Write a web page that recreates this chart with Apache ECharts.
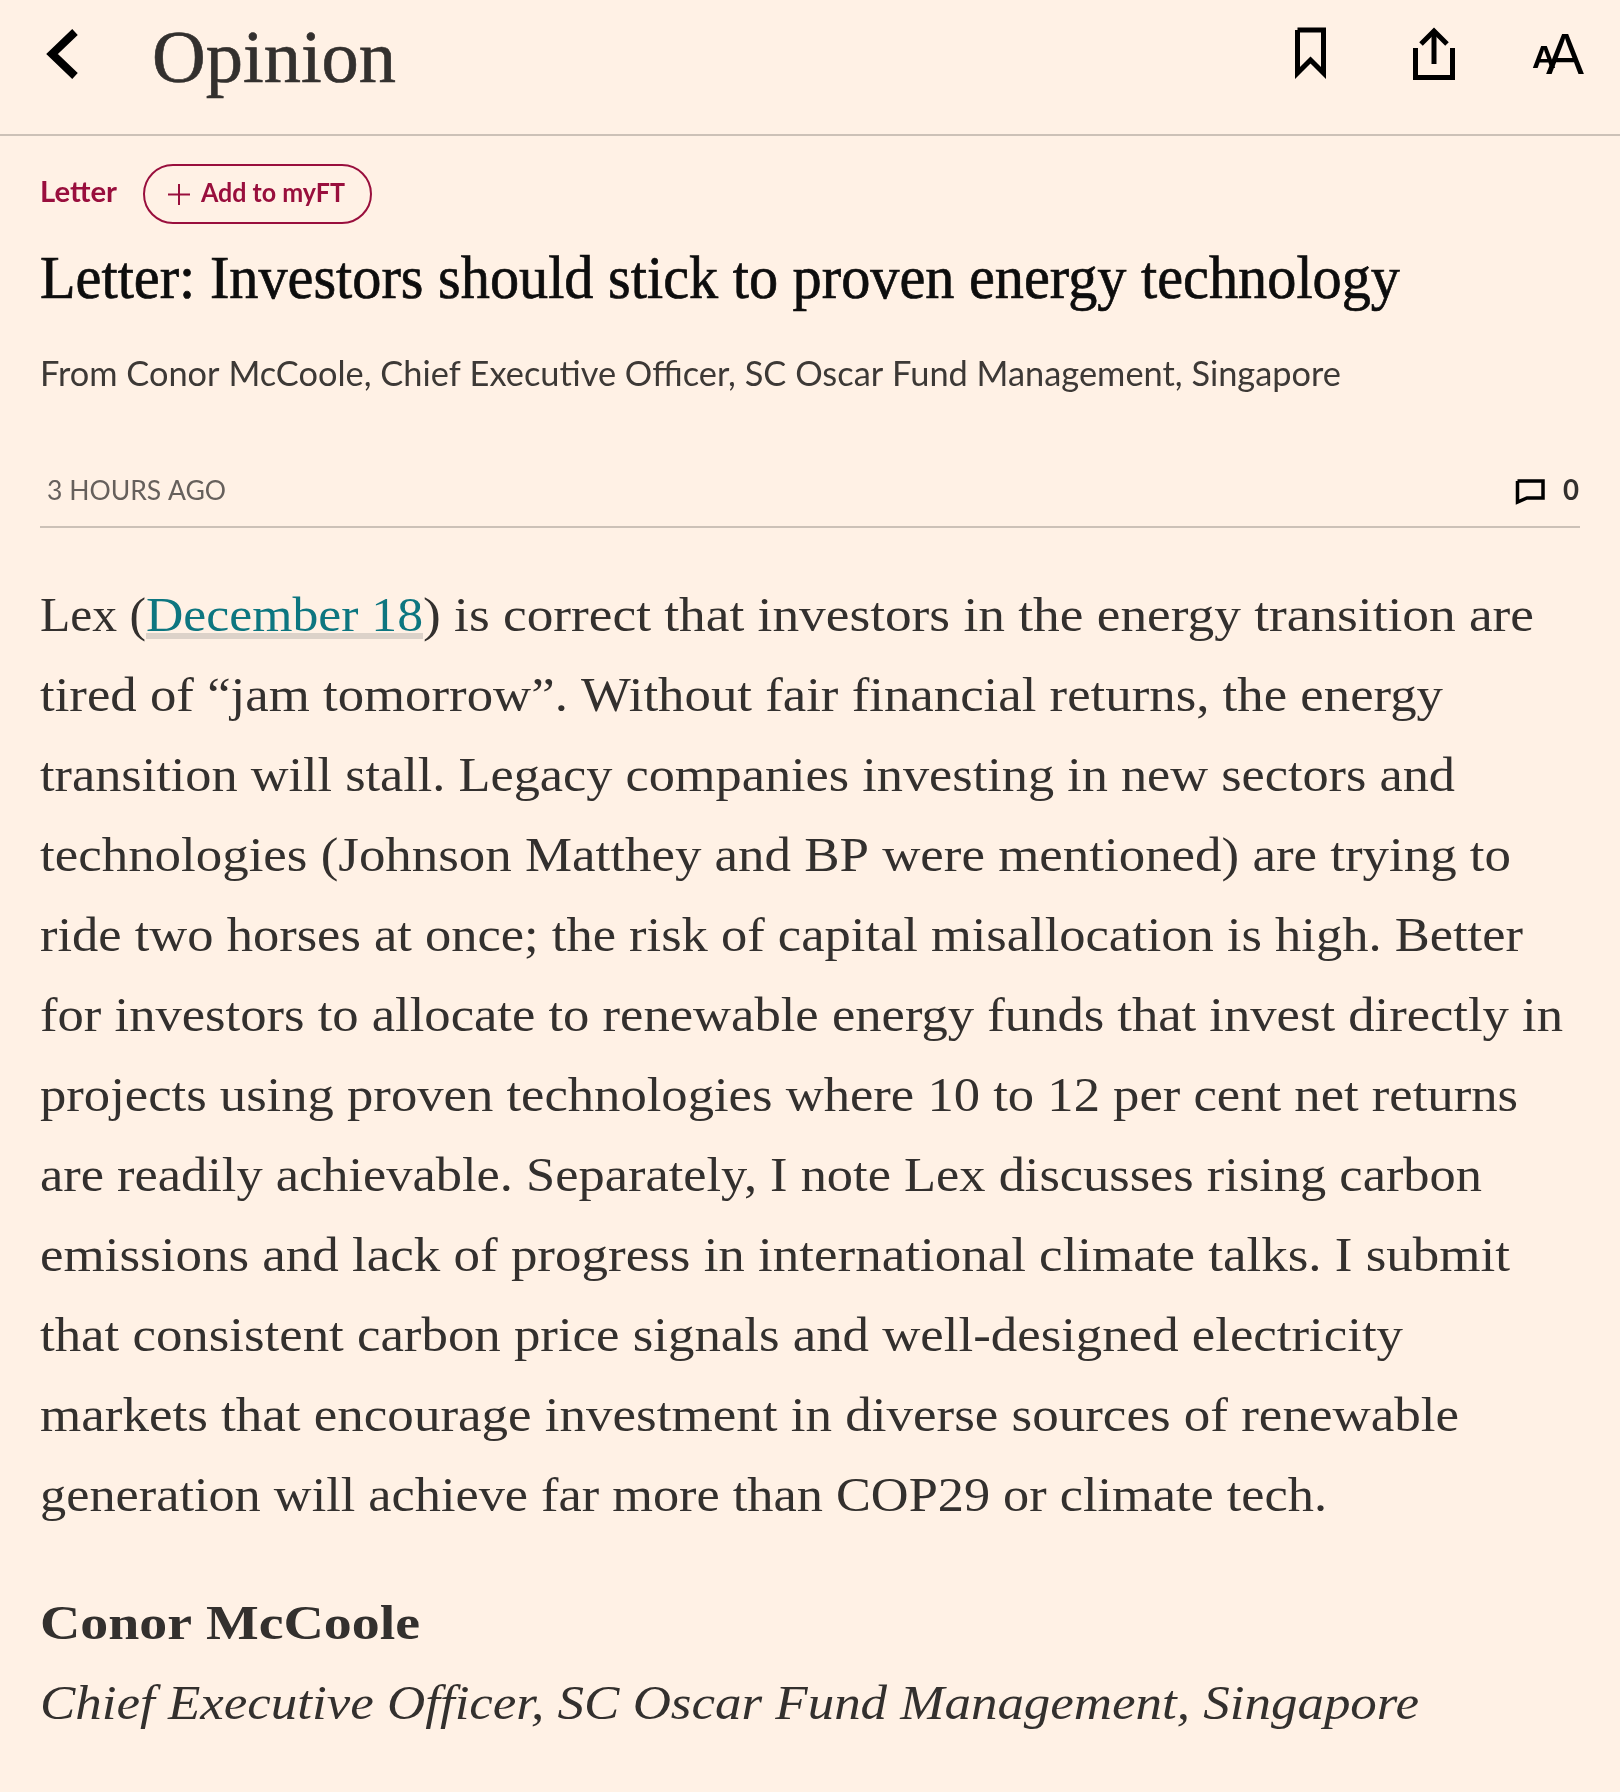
<!DOCTYPE html>
<html>
<head>
<meta charset="utf-8">
<title>Letter</title>
<script src="https://cdn.jsdelivr.net/npm/echarts@6/dist/echarts.min.js"></script>
<style>
html, body { margin: 0; padding: 0; background: #fff1e5; }
#main { width: 1620px; height: 1792px; }
</style>
</head>
<body>
<div id="main"></div>
<script>
// page texts
var sectionTitle = 'Opinion';
var tagLabel = 'Letter';
var followLabel = 'Add to myFT';
var headline = 'Letter: Investors should stick to proven energy technology';
var standfirst = 'From Conor McCoole, Chief Executive Officer, SC Oscar Fund Management, Singapore';
var timeLabel = '3 HOURS AGO';
var commentCount = '0';
var firstLineParts = ['Lex (', 'December 18', ') is correct that investors in the energy transition are'];
var bodyLines = [
    'tired of “jam tomorrow”. Without fair financial returns, the energy',
    'transition will stall. Legacy companies investing in new sectors and',
    'technologies (Johnson Matthey and BP were mentioned) are trying to',
    'ride two horses at once; the risk of capital misallocation is high. Better',
    'for investors to allocate to renewable energy funds that invest directly in',
    'projects using proven technologies where 10 to 12 per cent net returns',
    'are readily achievable. Separately, I note Lex discusses rising carbon',
    'emissions and lack of progress in international climate talks. I submit',
    'that consistent carbon price signals and well-designed electricity',
    'markets that encourage investment in diverse sources of renewable',
    'generation will achieve far more than COP29 or climate tech.'
];
var signName = 'Conor McCoole';
var signRole = 'Chief Executive Officer, SC Oscar Fund Management, Singapore';

// right edge of each body line, measured on the picture
var bodyRight = [1443, 1455, 1511, 1523, 1563, 1518, 1482, 1510, 1403, 1459, 1327];

var SERIF = '"Liberation Serif"', SANS = 'Lato';
var INK = '#33302e', CLARET = '#990f3d', RULE = '#ccc1b7';
var LEFT = 40;
var ctx = document.createElement('canvas').getContext('2d');

// text placed by baseline and squeezed/stretched to end at x2
function txt(text, x, x2, base, size, family, fill, weight, style, thicken) {
    ctx.font = (style || 'normal') + ' ' + (weight || 'normal') + ' ' + size + 'px ' + family;
    ctx.textBaseline = 'middle';
    var m = ctx.measureText(text);
    var off = ctx.measureText('H').actualBoundingBoxDescent;
    return {
        type: 'text',
        x: x,
        y: base - off,
        scaleX: x2 ? (x2 - x) / m.width : 1,
        z: 5,
        style: {
            text: text,
            fontFamily: family,
            fontSize: size,
            fontWeight: weight || 'normal',
            fontStyle: style || 'normal',
            fill: fill,
            stroke: thicken ? fill : null,
            lineWidth: thicken || 0,
            align: 'left',
            verticalAlign: 'middle'
        }
    };
}
function rule(x1, x2, y) {
    return { type: 'line', shape: { x1: x1, y1: y, x2: x2, y2: y }, style: { stroke: RULE, lineWidth: 2 } };
}
function poly(points, width, color) {
    return {
        type: 'polyline',
        shape: { points: points },
        style: { fill: 'none', stroke: color || '#000', lineWidth: width, lineJoin: 'miter', lineCap: 'butt' }
    };
}

var els = [];
// top bar
els.push(poly([[75, 32], [52, 54], [75, 76]], 8));
els.push(txt(sectionTitle, 152, 396, 82, 74, SERIF, INK, 'normal', 'normal', 0.6));
els.push(rule(0, 1620, 135));
els.push(poly([[1297.5, 30], [1323.5, 30], [1323.5, 73], [1310.5, 60], [1297.5, 73], [1297.5, 30]], 5));
els.push(poly([[1415.5, 48], [1415.5, 77.5], [1452.5, 77.5], [1452.5, 48]], 5));
els.push(poly([[1421, 44], [1434, 31], [1447, 44]], 5));
els.push(poly([[1434, 31], [1434, 64]], 5));
els.push(txt('A', 1532, 1556, 68, 32, '"Liberation Sans"', '#000', 'bold'));
els.push(txt('A', 1546, 1584, 74, 57, '"Liberation Sans"', '#000'));

// tag row
els.push(txt(tagLabel, LEFT, 117, 202, 28, SANS, CLARET, 'bold'));
els.push({
    type: 'rect',
    shape: { x: 144, y: 165, width: 227, height: 58, r: 29 },
    style: { fill: 'none', stroke: CLARET, lineWidth: 2 }
});
els.push(poly([[168, 194.5], [190, 194.5]], 2, CLARET));
els.push(poly([[179, 184], [179, 205]], 2, CLARET));
els.push(txt(followLabel, 201, 345, 202, 27, SANS, CLARET, 'bold'));

// headline block
els.push(txt(headline, LEFT, 1400, 298, 62, SERIF, '#0d0d0d', 'normal', 'normal', 0.7));
els.push(txt(standfirst, LEFT, 1341, 386, 34, SANS, '#3d3936'));
els.push(txt(timeLabel, 47, 226, 500, 27, SANS, '#66605c'));
els.push(poly([[1517.5, 481], [1543, 481], [1543, 498], [1527, 498], [1517.5, 502], [1517.5, 481]], 3.5));
els.push(txt(commentCount, 1563, 1579, 500, 28, SANS, INK, 'bold'));
els.push(rule(LEFT, 1580, 527));

// body, first line has the link
els.push({ type: 'rect', shape: { x: 146, y: 633, width: 277, height: 6 }, style: { fill: '#dcd2c9' } });
els.push(txt(firstLineParts[0], LEFT, 146, 631, 48, SERIF, INK));
els.push(txt(firstLineParts[1], 146, 423, 631, 48, SERIF, '#0d7680'));
els.push(txt(firstLineParts[2], 423, 1534, 631, 48, SERIF, INK));
bodyLines.forEach(function (line, i) {
    els.push(txt(line, LEFT, bodyRight[i], 631 + 80 * (i + 1), 48, SERIF, INK));
});

// signature
els.push(txt(signName, LEFT, 420, 1639, 48, SERIF, INK, 'bold'));
els.push(txt(signRole, LEFT, 1419, 1719, 48, SERIF, INK, 'normal', 'italic'));

var chart = echarts.init(document.getElementById('main'));
chart.setOption({
    backgroundColor: '#fff1e5',
    animation: false,
    graphic: { elements: els }
});
</script>
</body>
</html>
